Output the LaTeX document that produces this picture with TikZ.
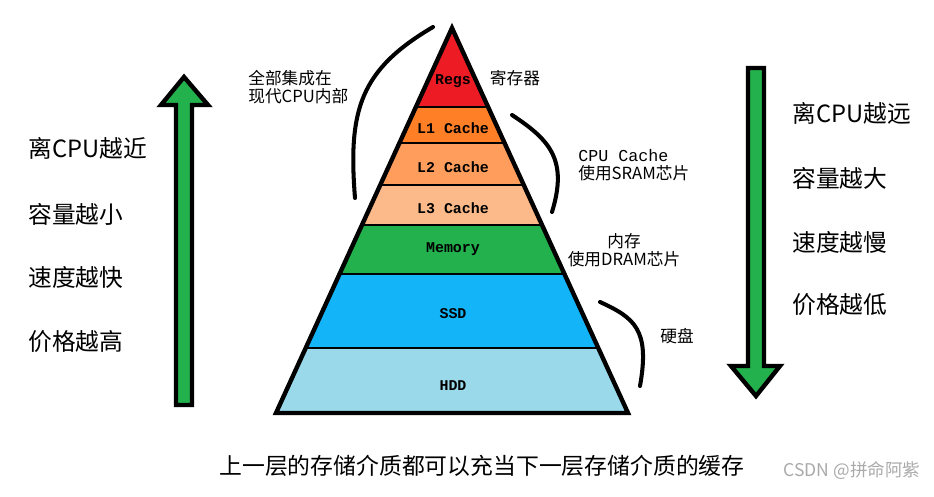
\documentclass[tikz,border=0pt]{standalone}
\usepackage{fontspec}
\setmainfont{Noto Sans CJK SC}
\setmonofont{Liberation Mono}
\usetikzlibrary{calc}

\definecolor{regsred}{RGB}{237,28,36}
\definecolor{lonecol}{RGB}{255,127,39}
\definecolor{ltwocol}{RGB}{255,158,92}
\definecolor{lthreecol}{RGB}{252,186,138}
\definecolor{memgreen}{RGB}{34,177,76}
\definecolor{ssdblue}{RGB}{20,180,248}
\definecolor{hddblue}{RGB}{153,217,234}
\definecolor{wmgray}{RGB}{170,170,170}

\begin{document}
\begin{tikzpicture}[x=0.02cm, y=-0.02cm,
  edge/.style={line width=2.5pt, line join=miter},
  brace/.style={line width=2.3pt, line cap=round},
  fatarrow/.style={draw, fill=memgreen, line width=2.5pt, line join=miter},
  layertxt/.style={font=\fontsize{8.5pt}{10pt}\selectfont\ttfamily\bfseries},
  note/.style={font=\fontsize{9.5pt}{10.4pt}\selectfont, inner sep=0pt},
  side/.style={font=\fontsize{13.5pt}{16pt}\selectfont, anchor=west, inner sep=0pt}]
\useasboundingbox (0,0) rectangle (934,497);
% Pyramide
\coordinate (apex) at (452,28);
\coordinate (bl) at (276,413);
\coordinate (br) at (628,413);
\foreach \ta/\tb/\col/\name/\ty/\txt in {
    0/0.2078/regsred/regs/81/Regs,
    0.2078/0.3013/lonecol/lone/128/L1 Cache,
    0.3013/0.4104/ltwocol/ltwo/167/L2 Cache,
    0.4104/0.5143/lthreecol/lthree/208/L3 Cache,
    0.5143/0.6416/memgreen/mem/249/Memory,
    0.6416/0.8338/ssdblue/ssd/314/SSD,
    0.8338/1/hddblue/hdd/386/HDD} {
  \fill[\col] ($(apex)!\ta!(bl)$) -- ($(apex)!\tb!(bl)$)
    -- ($(apex)!\tb!(br)$) -- ($(apex)!\ta!(br)$) -- cycle;
  \draw[edge] ($(apex)!\tb!(bl)$) -- ($(apex)!\tb!(br)$);
  \node[layertxt] (\name) at (453,\ty) {\txt};
}
\draw[edge] (apex) -- (bl) -- (br) -- cycle;
% Klammern und Beschriftungen
\draw[brace] (433,27) .. controls (360,70) and (348,110) .. (355,198);
\draw[brace] (512,115) .. controls (550,140) and (568,160) .. (552,212);
\draw[brace] (600,302) .. controls (635,318) and (650,330) .. (640,386);
\node[note, anchor=west, align=left] (allcpu) at (248,87) {全部集成在\\现代CPU内部};
\node[note] (regtxt) at (515,78) {寄存器};
\node[note, anchor=west, align=left] (sram) at (578,165)
  {{\ttfamily CPU Cache}\\使用SRAM芯片};
\node[note, align=center] (dram) at (624,250) {内存\\使用DRAM芯片};
\node[note] (disk) at (677,336) {硬盘};
% Pfeile
\draw[fatarrow] (176,405) -- (176,105) -- (161,105) -- (184,77)
  -- (208,105) -- (192,105) -- (192,405) -- cycle;
\draw[fatarrow] (748,68) -- (748,366) -- (731,366) -- (756,396)
  -- (780,366) -- (764,366) -- (764,68) -- cycle;
\node[side] (near) at (28,148) {离CPU越近};
\node[side] (small) at (28,214) {容量越小};
\node[side] (fast) at (28,277) {速度越快};
\node[side] (high) at (28,342) {价格越高};
\node[side] (far) at (792,113) {离CPU越远};
\node[side] (big) at (792,178) {容量越大};
\node[side] (slow) at (792,242) {速度越慢};
\node[side] (low) at (792,305) {价格越低};
% Fusszeile
\node[font=\fontsize{13pt}{15pt}\selectfont, inner sep=0pt] (cache) at (482,466)
  {上一层的存储介质都可以充当下一层存储介质的缓存};
\node[font=\fontsize{10pt}{12pt}\selectfont, text=wmgray, inner sep=0pt] (wm) at (852,471)
  {CSDN @拼命阿紫};
\end{tikzpicture}
\end{document}
